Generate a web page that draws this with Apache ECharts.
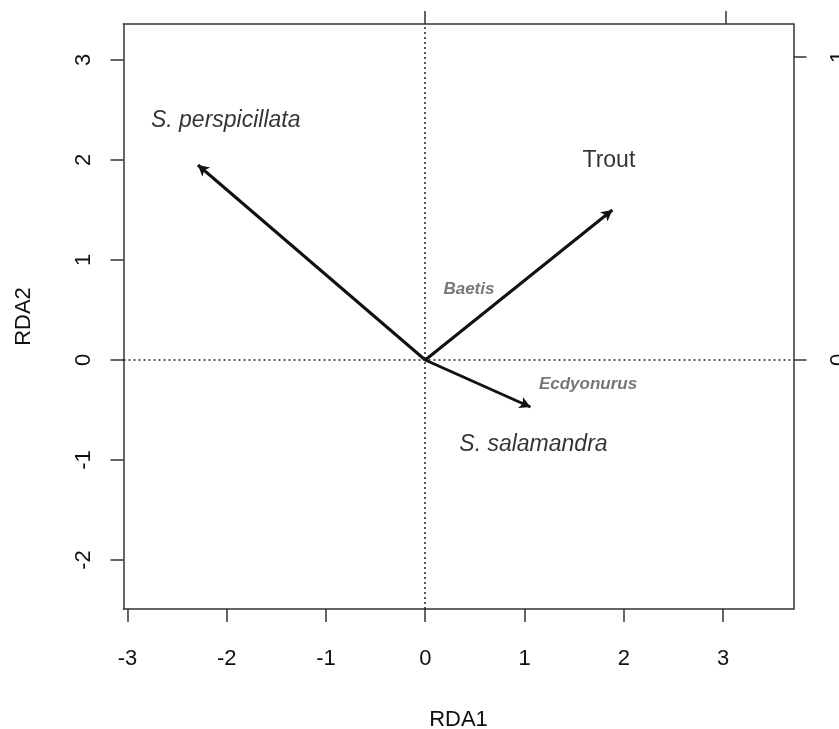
<!DOCTYPE html>
<html>
<head>
<meta charset="utf-8">
<script src="https://cdn.jsdelivr.net/npm/echarts@6/dist/echarts.min.js"></script>
<style>
  html, body { margin: 0; padding: 0; background: #fff; }
  #chart { width: 839px; height: 729px; }
</style>
</head>
<body>
<div id="chart"></div>
<script>
// axis ranges (RDA1 / RDA2)
var xMin = -3.04, xMax = 3.71;
var yMin = -2.49, yMax = 3.36;
var xTicks = [-3, -2, -1, 0, 1, 2, 3];
var yTicks = [-2, -1, 0, 1, 2, 3];
// secondary (top / right) axes of the biplot
var secScale = 3.03;
var secTicks = [0, 1];

// arrows from the origin
var arrowNames = ['S. perspicillata', 'Trout', 'S. salamandra'];
var arrowX = [-2.29, 1.885, 1.06];
var arrowY = [1.95, 1.50, -0.47];
var labelX = [-2.01, 1.85, 1.09];
var labelY = [2.39, 1.99, -0.85];
var labelItalic = [true, false, true];

// species text only
var speciesNames = ['Baetis', 'Ecdyonurus'];
var speciesX = [0.44, 1.64];
var speciesY = [0.71, -0.24];

var font = 'Liberation Sans, Arial, sans-serif';
var axisColor = '#333';
var tickStyle = { color: axisColor, width: 1.5 };

var myCharts = echarts.init(document.getElementById('chart'));

var arrowLines = [];
var labelData = [];
arrowNames.forEach(function(name, i) {
    arrowLines.push([{ coord: [0, 0] }, { coord: [arrowX[i], arrowY[i]] }]);
    labelData.push({
        value: [labelX[i], labelY[i]],
        name: name,
        label: { fontStyle: labelItalic[i] ? 'italic' : 'normal' }
    });
});
var speciesData = speciesNames.map(function(name, i) {
    return { value: [speciesX[i], speciesY[i]], name: name };
});

function baseAxis(min, max) {
    return {
        type: 'value',
        min: min,
        max: max,
        axisLine: { show: true, onZero: false, lineStyle: { color: axisColor, width: 1.5 } },
        splitLine: { show: false }
    };
}

var xMain = baseAxis(xMin, xMax);
xMain.position = 'bottom';
xMain.axisTick = { show: true, length: 13, customValues: xTicks, lineStyle: tickStyle };
xMain.axisLabel = { customValues: xTicks, margin: 39, fontSize: 22, color: '#111', fontFamily: font };
xMain.name = 'RDA1';
xMain.nameLocation = 'middle';
xMain.nameGap = 100;
xMain.nameTextStyle = { fontSize: 22, color: '#111', fontFamily: font };

var xTop = baseAxis(xMin / secScale, xMax / secScale);
xTop.position = 'top';
xTop.axisTick = { show: true, length: 13, customValues: secTicks, lineStyle: tickStyle };
xTop.axisLabel = { show: false };

var yMain = baseAxis(yMin, yMax);
yMain.position = 'left';
yMain.axisTick = { show: true, length: 13, customValues: yTicks, lineStyle: tickStyle };
yMain.axisLabel = { customValues: yTicks, rotate: 90, margin: 29, fontSize: 22, color: '#111', fontFamily: font };
yMain.name = 'RDA2';
yMain.nameLocation = 'middle';
yMain.nameGap = 89;
yMain.nameTextStyle = { fontSize: 22, color: '#111', fontFamily: font };

var yRight = baseAxis(yMin / secScale, yMax / secScale);
yRight.position = 'right';
yRight.axisTick = { show: true, length: 13, customValues: secTicks, lineStyle: tickStyle };
yRight.axisLabel = { customValues: secTicks, rotate: 90, margin: 34, fontSize: 22, color: '#111', fontFamily: font };

var option = {
    backgroundColor: '#fff',
    animation: false,
    grid: { left: 123.5, right: 45.5, top: 24, bottom: 120, outerBoundsMode: 'none' },
    xAxis: [xMain, xTop],
    yAxis: [yMain, yRight],
    series: [{
        // dotted zero lines
        type: 'scatter',
        data: [],
        silent: true,
        markLine: {
            silent: true,
            symbol: ['none', 'none'],
            label: { show: false },
            lineStyle: { color: '#222', type: [2, 3], width: 1.5 },
            data: [{ xAxis: 0 }, { yAxis: 0 }]
        }
    }, {
        // arrows
        type: 'scatter',
        data: [],
        silent: true,
        markLine: {
            silent: true,
            symbol: ['none', 'arrow'],
            symbolSize: [9, 11],
            label: { show: false },
            lineStyle: { color: '#111', type: 'solid', width: 3 },
            data: arrowLines
        }
    }, {
        // arrow labels
        type: 'scatter',
        symbolSize: 0,
        data: labelData,
        label: {
            show: true,
            position: 'inside',
            formatter: '{b}',
            fontSize: 23,
            color: '#000',
            fontFamily: font
        }
    }, {
        // species labels
        type: 'scatter',
        symbolSize: 0,
        data: speciesData,
        label: {
            show: true,
            position: 'inside',
            formatter: '{b}',
            fontSize: 17,
            fontStyle: 'italic',
            fontWeight: 'bold',
            color: '#555',
            fontFamily: font
        }
    }]
};
myCharts.setOption(option);
</script>
</body>
</html>
